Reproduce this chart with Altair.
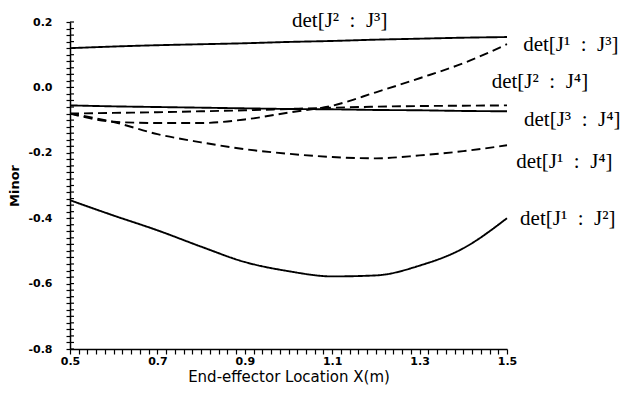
import altair as alt
import pandas as pd

# x positions (End-effector location, m)
x_vals = [0.5, 0.6, 0.7, 0.8, 0.9, 1.0, 1.1, 1.2, 1.3, 1.4, 1.5]

# series values
j23 = [0.120, 0.125, 0.129, 0.132, 0.135, 0.139, 0.142, 0.146, 0.149, 0.152, 0.154]
j13 = [-0.080, -0.105, -0.109, -0.109, -0.098, -0.077, -0.056, -0.015, 0.028, 0.074, 0.132]
j24 = [-0.080, -0.078, -0.076, -0.073, -0.070, -0.066, -0.062, -0.059, -0.057, -0.056, -0.055]
j34 = [-0.055, -0.058, -0.060, -0.062, -0.064, -0.066, -0.067, -0.069, -0.070, -0.072, -0.073]
j14 = [-0.080, -0.106, -0.143, -0.168, -0.189, -0.203, -0.213, -0.217, -0.208, -0.195, -0.177]
j12 = [-0.345, -0.392, -0.437, -0.487, -0.534, -0.562, -0.578, -0.575, -0.545, -0.492, -0.400]

series_names = ["J2J3", "J1J3", "J2J4", "J3J4", "J1J4", "J1J2"]
series_vals = [j23, j13, j24, j34, j14, j12]
series_style = ["solid", "dashed", "dashed", "solid", "dashed", "solid"]

# annotation labels (left edge, baseline)
sp = "\u2002"
label_text = ["det[J²" + sp + ":" + sp + "J³]", "det[J¹" + sp + ":" + sp + "J³]",
              "det[J²" + sp + ":" + sp + "J⁴]", "det[J³" + sp + ":" + sp + "J⁴]",
              "det[J¹" + sp + ":" + sp + "J⁴]", "det[J¹" + sp + ":" + sp + "J²]"]
label_x = [1.008, 1.537, 1.465, 1.539, 1.521, 1.530]
label_y = [0.184, 0.110, -0.002, -0.119, -0.247, -0.422]

# axis tick positions (0.02 steps; labels on every 0.2)
x_ticks = [round(0.5 + 0.02 * i, 2) for i in range(51)]
y_ticks = [round(-0.8 + 0.02 * i, 2) for i in range(51)]

rows = []
for name, vals, sty in zip(series_names, series_vals, series_style):
    for xv, yv in zip(x_vals, vals):
        rows.append({"series": name, "x": xv, "y": yv, "style": sty})
df = pd.DataFrame(rows)

lab = pd.DataFrame({"text": label_text, "x": label_x, "y": label_y})
yt = pd.DataFrame({"ty": y_ticks})

W, H = 437, 327
xscale = alt.Scale(domain=[0.5, 1.5], nice=False, zero=False)
yscale = alt.Scale(domain=[-0.8, 0.2], nice=False, zero=False)

x_label_expr = ("abs(datum.value*10 - round(datum.value*10)) < 0.001 && round(datum.value*10) % 2 != 0 "
                "? replace(format(datum.value, '.1f'), '\u2212', '-') : ''")
y_label_expr = ("abs(datum.value*10 - round(datum.value*10)) < 0.001 && round(datum.value*10) % 2 == 0 "
                "? replace(format(datum.value, '.1f'), '\u2212', '-') : ''")

x_axis = alt.Axis(
    values=x_ticks, labelExpr=x_label_expr, orient="bottom", grid=False,
    labelOverlap=False, labelFlush=False,
    labelFont="DejaVu Sans", labelFontWeight="bold", labelFontSize=11, labelColor="black",
    labelPadding=1, tickSize=5, tickColor="black", tickWidth=1.2,
    domainColor="black", domainWidth=1.5,
    title="End-effector Location X(m)", titleFont="DejaVu Sans", titleFontSize=15,
    titleFontWeight="normal", titleColor="black", titlePadding=3)
y_axis = alt.Axis(
    values=y_ticks, labelExpr=y_label_expr, orient="left", grid=False,
    labelOverlap=False, labelFlush=False,
    labelFont="DejaVu Sans", labelFontWeight="bold", labelFontSize=11, labelColor="black",
    labelPadding=14, tickSize=4, tickColor="black", tickWidth=1.2,
    domainColor="black", domainWidth=1.5,
    title="Minor", titleFont="DejaVu Sans", titleFontSize=13, titleFontWeight="bold",
    titleColor="black", titlePadding=6)

lines = alt.Chart(df).mark_line(color="black", strokeWidth=1.9, interpolate="monotone").encode(
    x=alt.X("x:Q", scale=xscale, axis=x_axis),
    y=alt.Y("y:Q", scale=yscale, axis=y_axis),
    detail="series:N",
    strokeDash=alt.StrokeDash("style:N", scale=alt.Scale(domain=["solid", "dashed"], range=[[1, 0], [9, 5]]), legend=None),
)

# inner half of the crossing ticks on the y axis
yrules = alt.Chart(yt).mark_rule(color="black", strokeWidth=1.2, clip=False).encode(
    y=alt.Y("ty:Q", scale=yscale, axis=y_axis),
    x=alt.value(0), x2=alt.value(4),
)

texts = alt.Chart(lab).mark_text(font="Liberation Serif", fontSize=21, color="black",
                                 align="left", baseline="alphabetic", clip=False).encode(
    x=alt.X("x:Q", scale=xscale, axis=x_axis),
    y=alt.Y("y:Q", scale=yscale, axis=y_axis),
    text="text:N",
)

chart = alt.layer(lines, yrules, texts).properties(
    width=W, height=H,
    autosize=alt.AutoSizeParams(type="none"),
    padding={"left": 62, "top": 14, "right": 120, "bottom": 36},
    background="white",
).configure_view(stroke=None)

chart.save("out.html", embed_options={"renderer": "svg", "actions": False})
